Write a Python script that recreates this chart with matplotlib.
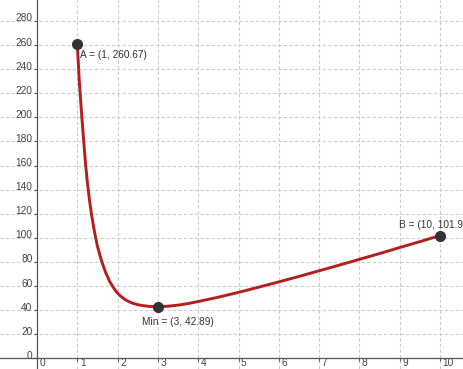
import matplotlib
matplotlib.use("Agg")
import matplotlib.pyplot as plt
import matplotlib.transforms as mtransforms

# curve values
curve_x = [1.0, 1.05, 1.1, 1.15, 1.2, 1.25, 1.3, 1.35, 1.4, 1.45, 1.5, 1.6, 1.7,
           1.8, 1.9, 2.0, 2.1, 2.2, 2.3, 2.4, 2.5, 2.6, 2.8, 3.0, 3.25, 3.5,
           3.75, 4.0, 4.5, 5.0, 5.5, 6.0, 6.5, 7.0, 7.5, 8.0, 8.5, 9.0, 9.5, 10.0]
curve_y = [260.67, 230, 206, 184, 163, 146, 132, 120, 110, 101, 93, 81, 71.5,
           64, 58.5, 54, 51, 48.5, 46.8, 45.5, 44.6, 43.9, 43.1, 42.89, 43.3, 44.2,
           45.5, 47.2, 50.8, 54.8, 59.1, 63.5, 68.0, 72.7, 77.4, 82.2, 87.0, 92.0, 96.9, 101.9]

# labelled points
point_x = [1, 3, 10]
point_y = [260.67, 42.89, 101.9]
point_labels = ["A = (1, 260.67)", "Min = (3, 42.89)", "B = (10, 101.91)"]
label_offsets = [(3, -11), (-16, -15), (-41, 11)]  # pixels

x_ticks = list(range(0, 11))
y_ticks = list(range(0, 281, 20))

fig = plt.figure(figsize=(4.63, 3.69), dpi=100)
ax = fig.add_axes([0, 0, 1, 1])

ax.set_xlim(-0.918, 10.57)
ax.set_ylim(-8.8, 297.4)

# axes through the origin, geogebra style
for side in ["top", "right"]:
    ax.spines[side].set_visible(False)
ax.spines["left"].set_position(("data", 0))
ax.spines["bottom"].set_position(("data", 0))
for side in ["left", "bottom"]:
    ax.spines[side].set_color("#555555")
    ax.spines[side].set_linewidth(0.9)

ax.set_xticks(x_ticks)
ax.set_yticks(y_ticks)
ax.set_xticklabels([str(t) for t in x_ticks])
ax.set_yticklabels([str(t) for t in y_ticks])
ax.tick_params(axis="both", length=2.2, width=0.8, color="#555555",
               labelsize=7.3, labelcolor="#444444", pad=1)
ax.tick_params(axis="x", pad=0)
for lab in ax.get_xticklabels():
    lab.set_fontfamily("Liberation Sans")
    lab.set_horizontalalignment("left")
    lab.set_transform(lab.get_transform() + mtransforms.ScaledTranslation(0.025, 0.035, fig.dpi_scale_trans))
for lab in ax.get_yticklabels():
    lab.set_fontfamily("Liberation Sans")
    lab.set_transform(lab.get_transform() + mtransforms.ScaledTranslation(0, 0.035, fig.dpi_scale_trans))

ax.grid(True, color="#cccccc", linestyle=(0, (3, 2)), linewidth=0.8)
ax.set_axisbelow(True)

ax.plot(curve_x, curve_y, color="#b51e1e", linewidth=2.1, solid_capstyle="round", zorder=3)
ax.plot(point_x, point_y, "o", color="#333333", markersize=7, zorder=4, clip_on=False)

for px, py, txt, off in zip(point_x, point_y, point_labels, label_offsets):
    ax.annotate(txt, (px, py), xytext=off, textcoords="offset pixels",
                ha="left", va="center", fontsize=7.3, color="#333333",
                family="Liberation Sans", annotation_clip=False)

fig.savefig("out.png", dpi=100)
